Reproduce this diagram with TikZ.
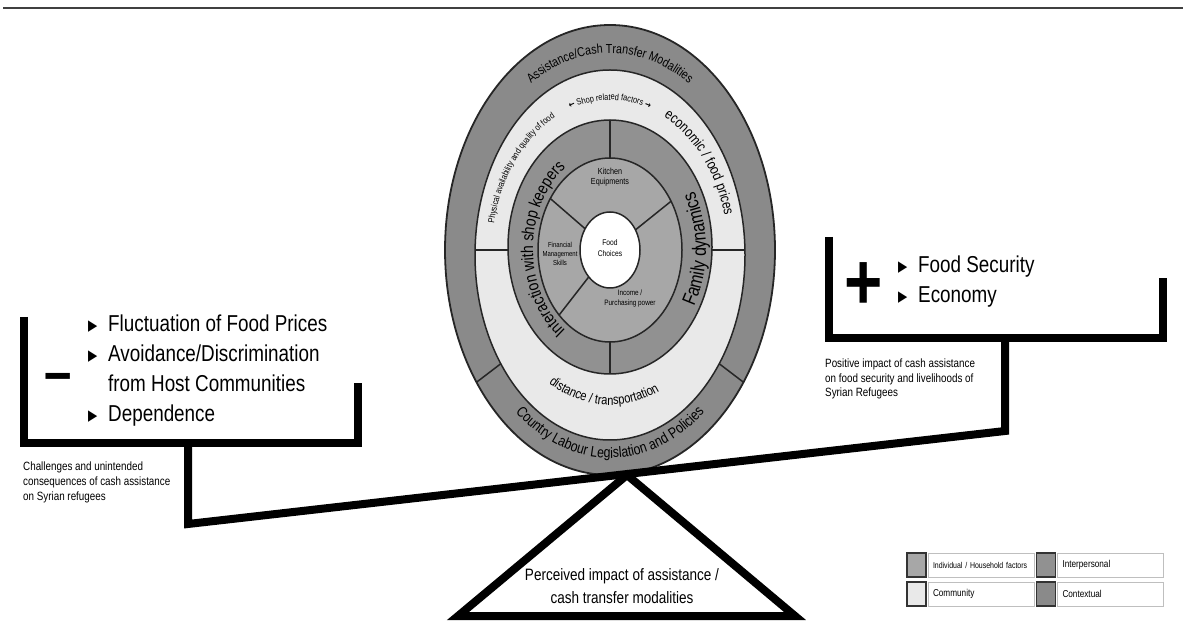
\documentclass[tikz,border=0pt]{standalone}
\usepackage{fontspec}
\setmainfont{Liberation Sans}[FakeStretch=0.82]
\newfontfamily\symfont{DejaVu Sans}[FakeStretch=0.8]
\usetikzlibrary{calc,decorations.text}

\definecolor{ctxgray}{HTML}{8A8A8A}
\definecolor{intgray}{HTML}{919191}
\definecolor{indgray}{HTML}{A7A7A7}
\definecolor{comgray}{HTML}{E9E9E9}

\newcommand{\setfs}[2]{\fontsize{#1}{#2}\selectfont}
\newcommand{\tri}{\makebox[20pt][l]{\raisebox{1pt}{\symfont\setfs{15}{15}▶}}}

\tikzset{
  ring/.style={draw=black!85, line width=1.5pt},
  bar/.style={line width=8pt, line cap=butt, line join=miter},
  ringtext/.style={decorate, decoration={text along path, text align=center, text={#1}}},
  swatch/.style={draw=black!80, line width=1.2pt, minimum width=19pt, minimum height=24pt, inner sep=0pt},
  keybox/.style={draw=black!25, line width=0.8pt, minimum height=24pt, text width=96pt, inner sep=5pt, align=left, anchor=west},
}

\begin{document}
\begin{tikzpicture}[x=1pt, y=1pt]
  \useasboundingbox (0,0) rectangle (1183,624);
  % Rule at the top
  \draw[black!75, line width=1.2pt] (3,616) -- (1183,616);

  % Centres of the rings
  \coordinate (ctx) at (610,374);
  \coordinate (com) at (610,369);
  \coordinate (int) at (610,377);
  \coordinate (ind) at (610,374);

  % Rings, outside in
  \draw[ring, line width=1.8pt, fill=ctxgray] (ctx) ellipse [x radius=165, y radius=225];
  \draw[ring, fill=comgray] (com) ellipse [x radius=135, y radius=185];
  \draw[ring, fill=intgray] (int) ellipse [x radius=102, y radius=127];
  \draw[ring, fill=indgray] (ind) ellipse [x radius=72, y radius=92];
  \draw[ring, fill=white] (ind) ellipse [x radius=30, y radius=38];

  % Dividers
  \draw[ring] ($(ctx)+(216:165 and 225)$) -- ($(com)+(216:135 and 185)$);
  \draw[ring] ($(ctx)+(324:165 and 225)$) -- ($(com)+(324:135 and 185)$);
  \draw[ring] (475,374) -- (508,374);
  \draw[ring] (712,374) -- (745,374);
  \draw[ring] ($(int)+(90:102 and 127)$) -- ($(ind)+(90:72 and 92)$);
  \draw[ring] ($(int)+(270:102 and 127)$) -- ($(ind)+(270:72 and 92)$);
  \draw[ring] ($(ind)+(146:72 and 92)$) -- ($(ind)+(146:30 and 38)$);
  \draw[ring] ($(ind)+(32:72 and 92)$) -- ($(ind)+(32:30 and 38)$);
  \draw[ring] ($(ind)+(225:72 and 92)$) -- ($(ind)+(225:30 and 38)$);

  % Texts along the rings
  \coordinate (otx) at (610,372);
  \coordinate (ctx2) at (610,370);
  \coordinate (itx) at (610,375);
  \path[ringtext={|\setfs{13}{15}|Assistance/Cash Transfer Modalities}]
    ($(otx)+(128:148 and 199)$) arc[start angle=128, end angle=52, x radius=148, y radius=199];
  \path[ringtext={|\setfs{15}{18}|Country Labour Legislation and Policies}]
    ($(otx)+(225:150 and 206)$) arc[start angle=225, end angle=315, x radius=150, y radius=206];
  \path[ringtext={|\setfs{9}{11}|Physical availability and quality of food}]
    ($(otx)+(174:118 and 152)$) arc[start angle=174, end angle=112, x radius=118, y radius=152];
  \path[ringtext={|\symfont\bfseries\setfs{9}{11}|←|\normalfont\setfs{9}{11}| Shop related factors |\symfont\bfseries\setfs{9}{11}|→}]
    ($(otx)+(116:118 and 152)$) arc[start angle=116, end angle=64, x radius=118, y radius=152];
  \path[ringtext={|\setfs{14.5}{17}|economic / food prices}]
    ($(otx)+(70:118 and 152)$) arc[start angle=70, end angle=8, x radius=118, y radius=152];
  \path[ringtext={|\setfs{13.5}{16}|distance / transportation}]
    ($(ctx2)+(222:118 and 151)$) arc[start angle=222, end angle=312, x radius=118, y radius=151];
  \path[ringtext={|\setfs{17}{20}|Interaction with shop keepers}]
    ($(itx)+(248:77 and 100)$) arc[start angle=248, end angle=112, x radius=77, y radius=100];
  \path[ringtext={|\setfs{19.5}{22}|Family dynamics}]
    ($(itx)+(-40:96 and 119)$) arc[start angle=-40, end angle=40, x radius=96, y radius=119];

  % Individual factors
  \node[align=center, font=\setfs{8.8}{10}] (kitchen) at (610,447) {Kitchen\\Equipments};
  \node[align=center, font=\setfs{7.3}{9}] (finance) at (560,370) {Financial\\Management\\Skills};
  \node[align=center, font=\setfs{7.8}{10}] (income) at (630,326) {Income /\\Purchasing power};
  \node[align=center, font=\setfs{8.2}{11}] (choices) at (610,376) {Food\\Choices};

  % Brackets, beam and fulcrum
  \draw[bar] (24,307) -- (24,181) -- (358,181) -- (358,241);
  \draw[bar] (829,387) -- (829,286) -- (1163,286) -- (1163,346);
  \draw[bar] (188,181) -- (188,100) -- (1005,193) -- (1005,286);
  \draw[bar] (627,149) -- (795,8) -- (458,8) -- cycle;

  % Left pan
  \node[font=\bfseries\setfs{60}{60}, anchor=base, inner sep=0pt] (minus) at (58,231) {–};
  \node[anchor=base west, inner sep=0pt, align=left, font=\setfs{23}{30}] (cons) at (88,202)
    {\tri Fluctuation of Food Prices\\ \tri Avoidance/Discrimination\\ \hspace*{20pt}from Host Communities\\ \tri Dependence};
  \node[anchor=base west, inner sep=0pt, align=left, font=\setfs{12}{14.5}] (conscap) at (23,124)
    {Challenges and unintended\\consequences of cash assistance\\on Syrian refugees};

  % Right pan
  \node[font=\bfseries\setfs{80}{80}, anchor=base, inner sep=0pt] (plus) at (864,314) {+};
  \node[anchor=base west, inner sep=0pt, align=left, font=\setfs{23}{30}] (pros) at (898,321)
    {\tri Food Security\\ \tri Economy};
  \node[anchor=base west, inner sep=0pt, align=left, font=\setfs{12}{14.5}] (proscap) at (825,227)
    {Positive impact of cash assistance\\on food security and livelihoods of\\Syrian Refugees};

  % Fulcrum label
  \node[anchor=base, inner sep=0pt, align=center, font=\setfs{16.5}{23}] (fulcrum) at (622,21)
    {Perceived impact of assistance /\\cash transfer modalities};

  % Legend
  \node[swatch, fill=indgray] (sw-ind) at (916.5,59) {};
  \node[keybox, font=\setfs{8.5}{10}] (key-ind) at ($(sw-ind.east)+(1,0)$) {Individual / Household factors};
  \node[swatch, fill=comgray] (sw-com) at (916.5,30) {};
  \node[keybox, font=\setfs{10}{12}] (key-com) at ($(sw-com.east)+(1,0)$) {Community};
  \node[swatch, fill=intgray] (sw-int) at (1046,59) {};
  \node[keybox, font=\setfs{10}{12}] (key-int) at ($(sw-int.east)+(1,0)$) {Interpersonal};
  \node[swatch, fill=ctxgray] (sw-ctx) at (1046,30) {};
  \node[keybox, font=\setfs{10}{12}] (key-ctx) at ($(sw-ctx.east)+(1,0)$) {Contextual};
\end{tikzpicture}
\end{document}
